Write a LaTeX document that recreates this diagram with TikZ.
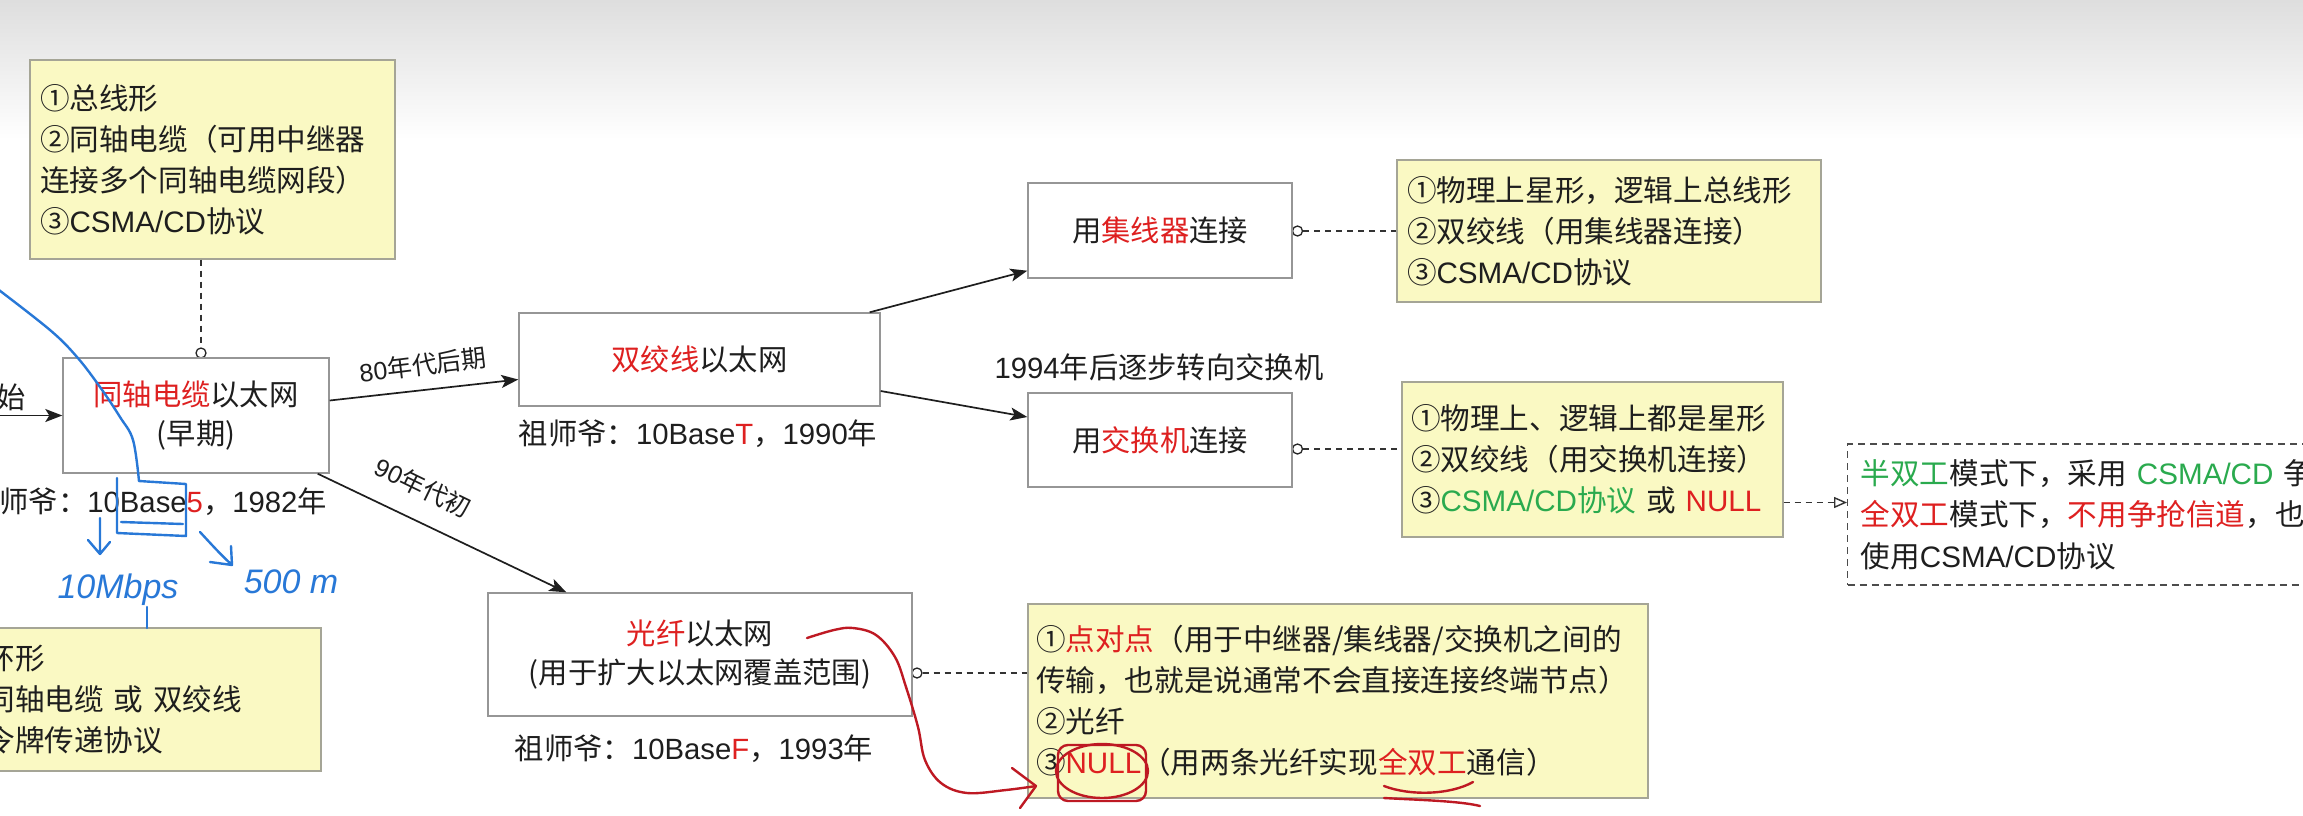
\documentclass[tikz,border=0pt]{standalone}
\usepackage{fontspec}
\setmainfont{Noto Sans CJK SC}
\newfontfamily\lat{Liberation Sans}
\usetikzlibrary{arrows.meta}
\definecolor{yfill}{RGB}{250,249,195}
\definecolor{yborder}{RGB}{165,165,150}
\definecolor{wborder}{RGB}{150,150,150}
\definecolor{txt}{RGB}{30,30,30}
\definecolor{myred}{RGB}{222,32,32}
\definecolor{mygreen}{RGB}{42,170,78}
\definecolor{penblue}{RGB}{40,120,215}
\definecolor{penred}{RGB}{190,25,35}
\newcommand{\txL}[1]{{\lat #1}}
\newcommand{\txR}[1]{\textcolor{myred}{#1}}
\newcommand{\txG}[1]{\textcolor{mygreen}{#1}}
\tikzset{
  wbox/.style={draw=wborder, line width=1.4pt, fill=white, inner sep=0pt, align=center, text=txt, font=\fontsize{29.3}{39}\selectfont},
  ybox/.style={draw=yborder, line width=1.4pt, fill=yfill, inner ysep=0pt, align=left, text=txt, font=\fontsize{29.6}{41}\selectfont},
  dbox/.style={draw=black!70, line width=1.4pt, dash pattern=on 7pt off 5pt, fill=white, inner ysep=0pt, align=left, text=txt, font=\fontsize{29.6}{41.5}\selectfont},
  conn/.style={draw=txt, line width=1.7pt, -{Stealth[length=17pt,width=13pt,inset=4pt]}},
  dconn/.style={draw=black!80, line width=1.4pt, dash pattern=on 6pt off 5pt},
  darr/.style={dconn, -{Triangle[open,length=13pt,width=11pt]}},
  pin/.style={circle, draw=black!85, fill=white, line width=1.3pt, minimum size=10pt, inner sep=0pt},
  lbl/.style={inner sep=0pt, text=txt, font=\fontsize{29.3}{34}\selectfont},
  elbl/.style={inner sep=0pt, text=txt, font=\fontsize{25}{30}\selectfont},
  pen/.style={line width=2.4pt, line cap=round, line join=round},
  hand/.style={inner sep=0pt, font=\lat\itshape\fontsize{34}{38}\selectfont},
}
\begin{document}
\begin{tikzpicture}[x=1pt,y=-1pt]
\useasboundingbox (0,0) rectangle (2303,815);
\clip (0,0) rectangle (2303,815);
\fill[white] (0,0) rectangle (2303,815);
\shade[top color=black!13, bottom color=white] (0,0) rectangle (2303,140);

% pins
\node[pin] (pA) at (201,353) {};
\node[pin] (pH) at (1297.5,231) {};
\node[pin] (pS) at (1297.5,449) {};
\node[pin] (pF) at (917,673) {};

% boxes
\node[ybox, text width=345pt, inner xsep=10pt, minimum height=199pt] (A) at (212.5,159.5)
  {①总线形\\②同轴电缆（可用中继器\\连接多个同轴电缆网段）\\③\txL{CSMA/CD}协议};
\node[wbox, minimum width=266pt, minimum height=115pt] (B) at (196,415.5)
  {\txR{同轴电缆}以太网\\(早期)};
\node[wbox, minimum width=361pt, minimum height=93pt] (T) at (699.5,359.5)
  {\txR{双绞线}以太网};
\node[wbox, minimum width=264pt, minimum height=95pt] (H) at (1160,230.5)
  {用\txR{集线器}连接};
\node[wbox, minimum width=264pt, minimum height=94pt] (S) at (1160,440)
  {用\txR{交换机}连接};
\node[wbox, minimum width=424pt, minimum height=123pt] (Fb) at (700,654.5)
  {\txR{光纤}以太网\\(用于扩大以太网覆盖范围)};
\node[ybox, text width=404pt, inner xsep=10pt, minimum height=142pt] (C1) at (1609,231)
  {①物理上星形，逻辑上总线形\\②双绞线（用集线器连接）\\③\txL{CSMA/CD}协议};
\node[ybox, text width=363pt, inner xsep=9pt, minimum height=155pt] (C2) at (1592.5,459.5)
  {①物理上、逻辑上都是星形\\②双绞线（用交换机连接）\\③\txG{\txL{CSMA/CD}协议} 或 \txR{\txL{NULL}}};
\node[ybox, text width=604pt, inner xsep=8pt, minimum height=194pt] (F) at (1338,701)
  {①\txR{点对点}（用于中继器/集线器/交换机之间的\\传输，也就是说通常不会直接连接终端节点）\\②光纤\\③\txR{\txL{NULL}}（用两条光纤实现\txR{全双工}通信）};
\node[ybox, text width=349pt, inner xsep=16pt, minimum height=143pt] (G) at (130.5,699.5)
  {①环形\\②同轴电缆 或 双绞线\\③令牌传递协议};
\node[dbox, text width=536pt, inner xsep=13pt, minimum height=141pt, anchor=west] (D) at (1847,514.5)
  {\txG{半双工}模式下，采用 \txG{\txL{CSMA/CD}} 争\\\txR{全双工}模式下，\txR{不用争抢信道}，也\\使用\txL{CSMA/CD}协议};

% dashed pin connectors
\draw[dconn] (pA |- A.south) -- (pA);
\draw[dconn] (pH) -- (C1.west |- pH);
\draw[dconn] (pS) -- (C2.west |- pS);
\draw[dconn] (pF) -- (F.west |- pF);
\coordinate (c2o) at ([yshift=-43pt]C2.east);
\draw[darr] (c2o) -- (c2o -| D.west);

% arrows
\coordinate (inL) at (-5,415.5);
\draw[conn] (inL) -- (B.west);
\draw[conn] ([yshift=15pt]B.east) -- ([yshift=-20pt]T.west);
\draw[conn] ([xshift=-12pt]B.south east) -- ([xshift=79pt]Fb.north west);
\draw[conn] ([xshift=-11pt]T.north east) -- ([yshift=8pt]H.south west);
\draw[conn] ([yshift=-31.5pt]T.east) -- ([yshift=23pt]S.west);

% labels
\node[lbl] (start) at (11,397) {始};
\node[elbl, rotate=7] (l80) at (423,365) {\txL{80}年代后期};
\node[elbl, rotate=-26] (l90) at (423,487) {\txL{90}年代初};
\node[lbl] (l94) at (1159,367) {\txL{1994}年后逐步转向交换机};
\node[lbl, anchor=east] (Blab) at (327,502) {祖师爷：\txL{10Base}\txR{\txL{5}}，\txL{1982}年};
\node[lbl] (Tlab) at (698,434) {祖师爷：\txL{10Base}\txR{\txL{T}}，\txL{1990}年};
\node[lbl] (Flab) at (694,749) {祖师爷：\txL{10Base}\txR{\txL{F}}，\txL{1993}年};

% hand-drawn blue annotations
\draw[pen, penblue] plot[smooth, tension=0.6] coordinates {(-5,287) (50,330) (77,357) (100,387) (120,417) (133,440) (139,481)};
\draw[pen, penblue] (139,481) -- (186,484) -- (186,536) -- (117,533) -- (117,478);
\draw[pen, penblue] (121,522) -- (183,524);
\draw[pen, penblue] (100,518) -- (100,553) (88,540) -- (100,554) -- (110,542);
\draw[pen, penblue] (200,532) .. controls (212,545) and (222,556) .. (231,564) (210,562) -- (232,565) -- (231,546);
\node[hand, text=penblue] (n10) at (118,590) {10Mbps};
\node[hand, text=penblue] (n500) at (291,582) {500 m};
\draw[pen, penblue] (147,607) -- (147,628);

% hand-drawn red annotations
\draw[pen, penred] plot[smooth, tension=0.6] coordinates {(807,638) (834,630) (853,628) (876,635) (895,657) (906,687) (918,727) (925,760) (941,783) (967,793) (1006,790) (1036,786)};
\draw[pen, penred] (1012,768) -- (1036,786) -- (1020,808);
\draw[pen, penred] (1102,771) ellipse [x radius=46pt, y radius=27pt];
\draw[pen, penred, rounded corners=10pt] (1058,745) rectangle (1146,801);
\draw[pen, penred] (1384,786) .. controls (1410,796) and (1450,795) .. (1473,782);
\draw[pen, penred] (1384,798) .. controls (1420,800) and (1460,801) .. (1480,806);
\end{tikzpicture}
\end{document}
